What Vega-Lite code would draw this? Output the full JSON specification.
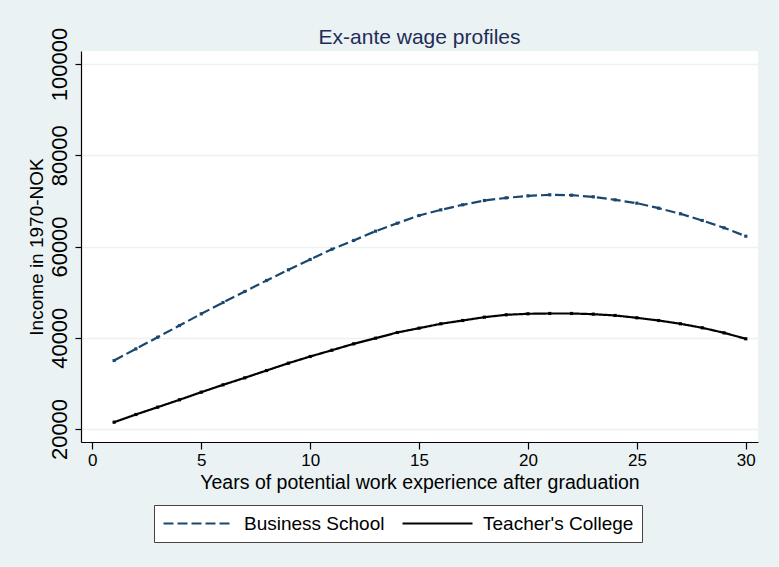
{
  "$schema": "https://vega.github.io/schema/vega-lite/v6.json",
  "width": 677,
  "height": 391,
  "autosize": {"type": "none"},
  "padding": {"left": 81, "top": 51, "right": 21, "bottom": 125},
  "background": "#eaf2f3",
  "view": {"fill": "white", "stroke": null},
  "title": {
    "text": "Ex-ante wage profiles",
    "font": "Liberation Sans",
    "fontSize": 21,
    "fontWeight": "normal",
    "color": "#1e2e58",
    "anchor": "middle",
    "offset": 0,
    "dy": 21
  },
  "data": {
    "values": [
      {"t": 1, "school": "Business School", "income": 35010},
      {"t": 2, "school": "Business School", "income": 37570},
      {"t": 3, "school": "Business School", "income": 40120},
      {"t": 4, "school": "Business School", "income": 42680},
      {"t": 5, "school": "Business School", "income": 45240},
      {"t": 6, "school": "Business School", "income": 47720},
      {"t": 7, "school": "Business School", "income": 50140},
      {"t": 8, "school": "Business School", "income": 52550},
      {"t": 9, "school": "Business School", "income": 54890},
      {"t": 10, "school": "Business School", "income": 57150},
      {"t": 11, "school": "Business School", "income": 59410},
      {"t": 12, "school": "Business School", "income": 61320},
      {"t": 13, "school": "Business School", "income": 63360},
      {"t": 14, "school": "Business School", "income": 65110},
      {"t": 15, "school": "Business School", "income": 66790},
      {"t": 16, "school": "Business School", "income": 68040},
      {"t": 17, "school": "Business School", "income": 69140},
      {"t": 18, "school": "Business School", "income": 70080},
      {"t": 19, "school": "Business School", "income": 70660},
      {"t": 20, "school": "Business School", "income": 71100},
      {"t": 21, "school": "Business School", "income": 71330},
      {"t": 22, "school": "Business School", "income": 71250},
      {"t": 23, "school": "Business School", "income": 70890},
      {"t": 24, "school": "Business School", "income": 70230},
      {"t": 25, "school": "Business School", "income": 69490},
      {"t": 26, "school": "Business School", "income": 68400},
      {"t": 27, "school": "Business School", "income": 67170},
      {"t": 28, "school": "Business School", "income": 65700},
      {"t": 29, "school": "Business School", "income": 64100},
      {"t": 30, "school": "Business School", "income": 62260},
      {"t": 1, "school": "Teacher's College", "income": 21490},
      {"t": 2, "school": "Teacher's College", "income": 23180},
      {"t": 3, "school": "Teacher's College", "income": 24780},
      {"t": 4, "school": "Teacher's College", "income": 26400},
      {"t": 5, "school": "Teacher's College", "income": 28070},
      {"t": 6, "school": "Teacher's College", "income": 29680},
      {"t": 7, "school": "Teacher's College", "income": 31220},
      {"t": 8, "school": "Teacher's College", "income": 32820},
      {"t": 9, "school": "Teacher's College", "income": 34420},
      {"t": 10, "school": "Teacher's College", "income": 35890},
      {"t": 11, "school": "Teacher's College", "income": 37270},
      {"t": 12, "school": "Teacher's College", "income": 38670},
      {"t": 13, "school": "Teacher's College", "income": 39900},
      {"t": 14, "school": "Teacher's College", "income": 41150},
      {"t": 15, "school": "Teacher's College", "income": 42100},
      {"t": 16, "school": "Teacher's College", "income": 43060},
      {"t": 17, "school": "Teacher's College", "income": 43780},
      {"t": 18, "school": "Teacher's College", "income": 44510},
      {"t": 19, "school": "Teacher's College", "income": 45030},
      {"t": 20, "school": "Teacher's College", "income": 45250},
      {"t": 21, "school": "Teacher's College", "income": 45320},
      {"t": 22, "school": "Teacher's College", "income": 45320},
      {"t": 23, "school": "Teacher's College", "income": 45170},
      {"t": 24, "school": "Teacher's College", "income": 44880},
      {"t": 25, "school": "Teacher's College", "income": 44370},
      {"t": 26, "school": "Teacher's College", "income": 43780},
      {"t": 27, "school": "Teacher's College", "income": 43060},
      {"t": 28, "school": "Teacher's College", "income": 42180},
      {"t": 29, "school": "Teacher's College", "income": 41080},
      {"t": 30, "school": "Teacher's College", "income": 39770}
    ]
  },
  "encoding": {
    "x": {
      "field": "t",
      "type": "quantitative",
      "scale": {"domain": [-0.52, 30.56], "nice": false, "zero": false},
      "axis": {
        "title": "Years of potential work experience after graduation",
        "values": [0, 5, 10, 15, 20, 25, 30],
        "grid": false,
        "domainColor": "black",
        "domainWidth": 1.2,
        "tickColor": "black",
        "tickSize": 7,
        "tickWidth": 1.2,
        "labelFont": "Liberation Sans",
        "labelFontSize": 17,
        "labelColor": "black",
        "labelPadding": 3,
        "labelFlush": false,
        "titleFont": "Liberation Sans",
        "titleFontSize": 19.5,
        "titleFontWeight": "normal",
        "titleColor": "black",
        "titlePadding": 5
      }
    },
    "y": {
      "field": "income",
      "type": "quantitative",
      "scale": {"domain": [17150, 102850], "nice": false, "zero": false},
      "axis": {
        "title": "Income in 1970-NOK",
        "values": [20000, 40000, 60000, 80000, 100000],
        "format": "d",
        "grid": true,
        "gridColor": "#eaf2f3",
        "gridWidth": 1.5,
        "domainColor": "black",
        "domainWidth": 1.2,
        "tickColor": "black",
        "tickSize": 6,
        "tickWidth": 1.2,
        "labelFont": "Liberation Sans",
        "labelFontSize": 22,
        "labelColor": "black",
        "labelAngle": 270,
        "labelAlign": "center",
        "labelBaseline": "bottom",
        "labelPadding": 4,
        "labelFlush": false,
        "titleFont": "Liberation Sans",
        "titleFontSize": 19,
        "titleFontWeight": "normal",
        "titleColor": "black",
        "titlePadding": 2
      }
    }
  },
  "layer": [
    {
      "mark": {"type": "line", "strokeWidth": 2.2},
      "encoding": {
        "color": {
          "field": "school",
          "type": "nominal",
          "scale": {"domain": ["Business School", "Teacher's College"], "range": ["#1a476f", "#000000"]},
          "legend": {
            "title": null,
            "orient": "none",
            "legendX": 73,
            "legendY": 454,
            "direction": "horizontal",
            "fillColor": "white",
            "strokeColor": "#444444",
            "padding": 8,
            "symbolType": "stroke",
            "symbolSize": 4900,
            "symbolStrokeWidth": 2.2,
            "clipHeight": 21,
            "labelFont": "Liberation Sans",
            "labelFontSize": 19,
            "labelColor": "black",
            "labelOffset": 9,
            "columnPadding": 16,
            "labelLimit": 400
          }
        },
        "strokeDash": {
          "field": "school",
          "type": "nominal",
          "scale": {"domain": ["Business School", "Teacher's College"], "range": [[10, 4], [1, 0]]},
          "legend": {
            "title": null,
            "orient": "none",
            "legendX": 73,
            "legendY": 454,
            "direction": "horizontal",
            "fillColor": "white",
            "strokeColor": "#444444",
            "padding": 8,
            "symbolType": "stroke",
            "symbolSize": 4900,
            "symbolStrokeWidth": 2.2,
            "clipHeight": 21,
            "labelFont": "Liberation Sans",
            "labelFontSize": 19,
            "labelColor": "black",
            "labelOffset": 9,
            "columnPadding": 16,
            "labelLimit": 400
          }
        }
      }
    },
    {
      "mark": {"type": "point", "shape": "square", "filled": true, "size": 10, "opacity": 1},
      "encoding": {
        "fill": {
          "condition": {"test": "datum.school === 'Business School'", "value": "#1a476f"},
          "value": "#000000"
        }
      }
    }
  ]
}
